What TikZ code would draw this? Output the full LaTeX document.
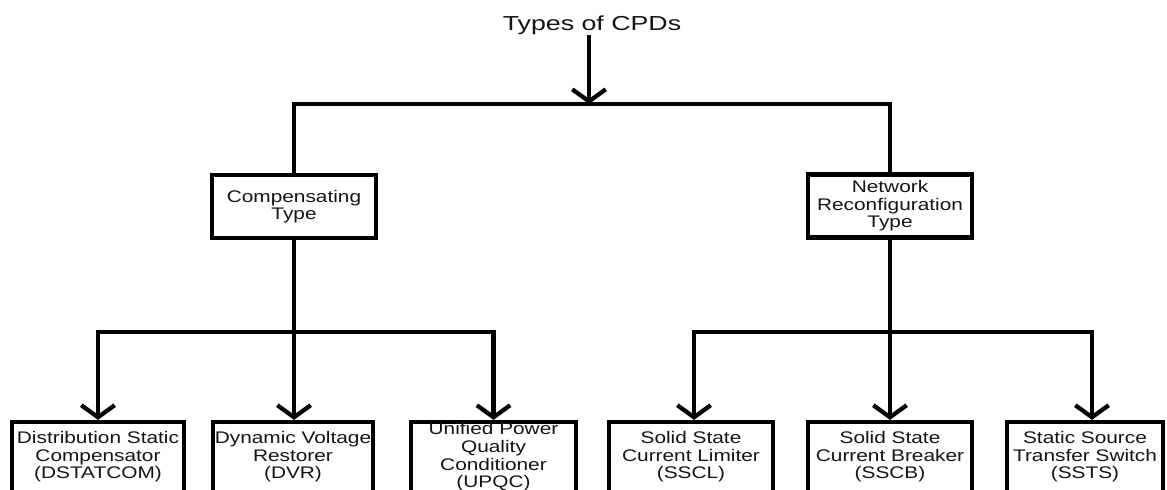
\documentclass[tikz,border=0pt]{standalone}
\usepackage{fontspec}
\setmainfont{Liberation Sans}[FakeStretch=1.24]
\newfontfamily\titlefont{Liberation Sans}[FakeStretch=1.32]
\usetikzlibrary{arrows.meta}
\begin{document}
\begin{tikzpicture}[x=0.75pt,y=-0.75pt,
  line width=3.2pt, line join=miter,
  box/.style={draw, line width=3.2pt, inner sep=0pt, align=center,
    text=black!92, font=\fontsize{12.6}{13.2}\selectfont},
  topbox/.style={box, minimum height=63*0.75pt},
  lowbox/.style={box, minimum height=70*0.75pt},
  arr/.style={-{Straight Barb[length=9pt,width=25pt]}}]
\useasboundingbox (0,0) rectangle (1167,489);
% title
\node[inner sep=0pt, text=black!92, font=\titlefont\fontsize{15.2}{16}\selectfont] (title) at (592,25) {Types of CPDs};
\coordinate (tstart) at (589,35);
\coordinate (topj) at (589,104);
% second level
\node[topbox, minimum width=164*0.75pt] (comp) at (294,206.5) {Compensating\\Type};
\node[topbox, minimum width=164*0.75pt] (net) at (890,206) {Network\\Reconfiguration\\Type};
% third level
\node[lowbox, minimum width=172*0.75pt] (dstat) at (98,457) {Distribution Static\\Compensator\\(DSTATCOM)};
\node[lowbox, minimum width=160*0.75pt] (dvr) at (293,457) {Dynamic Voltage\\Restorer\\(DVR)};
\node[lowbox, minimum width=165*0.75pt] (upqc) at (493.5,457) {Unified Power\\Quality\\Conditioner\\(UPQC)};
\node[lowbox, minimum width=164*0.75pt] (sscl) at (691,457) {Solid State\\Current Limiter\\(SSCL)};
\node[lowbox, minimum width=164*0.75pt] (sscb) at (890,457) {Solid State\\Current Breaker\\(SSCB)};
\node[lowbox, minimum width=156*0.75pt] (ssts) at (1085,457) {Static Source\\Transfer Switch\\(SSTS)};
\coordinate (lbar) at (294,332);
\coordinate (rbar) at (890,332);
\coordinate (rbarL) at (694,332);
\coordinate (rbarR) at (1092,332);
% connectors
\draw[arr] (tstart) -- (topj);
\draw (comp.north) -- (comp.north |- topj) -- (net.north |- topj) -- (net.north);
\draw (comp.south) -- (lbar);
\draw[arr] (upqc.north |- lbar) -- (dstat.north |- lbar) -- (dstat.north);
\draw[arr] (dstat.north |- lbar) -- (upqc.north |- lbar) -- (upqc.north);
\draw[arr] (lbar) -- (lbar |- dvr.north);
\draw (net.south) -- (rbar);
\draw[arr] (rbarR) -- (rbarL) -- (rbarL |- sscl.north);
\draw[arr] (rbarL) -- (rbarR) -- (rbarR |- ssts.north);
\draw[arr] (rbar) -- (sscb.north);
\end{tikzpicture}
\end{document}
